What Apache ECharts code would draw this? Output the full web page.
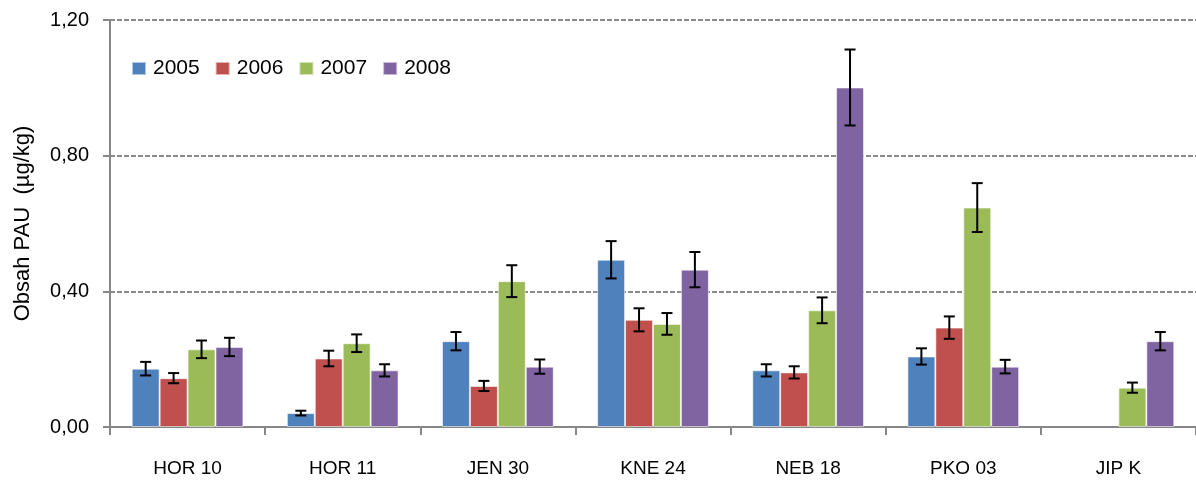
<!DOCTYPE html>
<html>
<head>
<meta charset="utf-8">
<script src="https://cdn.jsdelivr.net/npm/echarts@6/dist/echarts.min.js"></script>
<style>
  html, body { margin: 0; padding: 0; background: #fff; }
  #chart { width: 1196px; height: 480px; }
</style>
</head>
<body>
<div id="chart"></div>
<script>
// Sampling sites
const sites = ['HOR 10', 'HOR 11', 'JEN 30', 'KNE 24', 'NEB 18', 'PKO 03', 'JIP K'];
const years = ['2005', '2006', '2007', '2008'];

// Mean PAH content (µg/kg) per year
const v2005 = [0.172, 0.041, 0.253, 0.493, 0.167, 0.208, null];
const v2006 = [0.144, 0.202, 0.121, 0.316, 0.161, 0.293, null];
const v2007 = [0.229, 0.247, 0.430, 0.304, 0.344, 0.647, 0.116];
const v2008 = [0.236, 0.167, 0.178, 0.464, 1.001, 0.178, 0.253];

// Half-width of the error bars per year
const e2005 = [0.020, 0.007, 0.027, 0.055, 0.018, 0.024, null];
const e2006 = [0.015, 0.023, 0.015, 0.034, 0.018, 0.033, null];
const e2007 = [0.026, 0.026, 0.047, 0.032, 0.038, 0.072, 0.015];
const e2008 = [0.027, 0.018, 0.021, 0.052, 0.112, 0.020, 0.027];

const yTicks = [0, 0.4, 0.8, 1.2];

const values = [v2005, v2006, v2007, v2008];
const errors = [e2005, e2006, e2007, e2008];
const colors = ['#4F81BD', '#C0504D', '#9BBB59', '#8064A2'];
const CAT_GAP = 0.28;
const FONT = '"Liberation Sans", Arial, sans-serif';

const barSeries = years.map((y, k) => ({
  name: y,
  type: 'bar',
  data: values[k],
  barGap: 0,
  barCategoryGap: (CAT_GAP * 100) + '%',
  itemStyle: { color: colors[k], borderColor: 'rgba(255,255,255,0.55)', borderWidth: 1 },
  emphasis: { disabled: true },
  z: 2
}));

const errSeries = years.map((y, k) => ({
  type: 'custom',
  silent: true,
  z: 5,
  data: values[k].map((v, i) => v == null ? null : [i, v - errors[k][i], v + errors[k][i]])
    .filter(d => d !== null),
  encode: { x: 0, y: [1, 2] },
  renderItem: function (params, api) {
    const ci = api.value(0);
    const pHi = api.coord([ci, api.value(2)]);
    const pLo = api.coord([ci, api.value(1)]);
    const band = api.size([1, 0])[0];
    const barW = band * (1 - CAT_GAP) / years.length;
    const cx = pHi[0] + (k - (years.length - 1) / 2) * barW;
    const cap = 5.5;
    const style = { stroke: '#000', lineWidth: 2 };
    return {
      type: 'group',
      children: [
        { type: 'line', shape: { x1: cx, y1: pHi[1], x2: cx, y2: pLo[1] }, style },
        { type: 'line', shape: { x1: cx - cap, y1: pHi[1], x2: cx + cap, y2: pHi[1] }, style },
        { type: 'line', shape: { x1: cx - cap, y1: pLo[1], x2: cx + cap, y2: pLo[1] }, style }
      ]
    };
  }
}));

const chart = echarts.init(document.getElementById('chart'), null, { renderer: 'canvas' });
chart.setOption({
  animation: false,
  textStyle: { fontFamily: FONT },
  grid: { left: 110, right: -3, top: 20, bottom: 53 },
  legend: {
    data: years,
    left: 131,
    top: 58,
    padding: 0,
    itemWidth: 14,
    itemHeight: 13,
    itemGap: 15,
    icon: 'rect',
    textStyle: { fontFamily: FONT, fontSize: 21, color: '#000', padding: [0, 0, 0, 2] }
  },
  xAxis: {
    type: 'category',
    data: sites,
    axisLine: { lineStyle: { color: '#878787', width: 2 } },
    axisTick: { show: true, length: 8, lineStyle: { color: '#878787', width: 2 } },
    axisLabel: { fontFamily: FONT, fontSize: 19, color: '#000', margin: 32 },
    splitLine: { show: false }
  },
  yAxis: {
    type: 'value',
    min: yTicks[0],
    max: yTicks[yTicks.length - 1],
    interval: yTicks[1] - yTicks[0],
    name: 'Obsah PAU  (µg/kg)',
    nameLocation: 'middle',
    nameGap: 76,
    nameTextStyle: { fontFamily: FONT, fontSize: 22, color: '#000' },
    axisLine: { show: true, lineStyle: { color: '#878787', width: 2 } },
    axisTick: { show: true, length: 7, lineStyle: { color: '#878787', width: 2 } },
    axisLabel: {
      fontFamily: FONT, fontSize: 20, color: '#000', margin: 21,
      formatter: v => v.toFixed(2).replace('.', ',')
    },
    splitLine: { lineStyle: { color: '#8c8c8c', width: 2, type: [5, 2] } }
  },
  series: [...barSeries, ...errSeries]
});
</script>
</body>
</html>
